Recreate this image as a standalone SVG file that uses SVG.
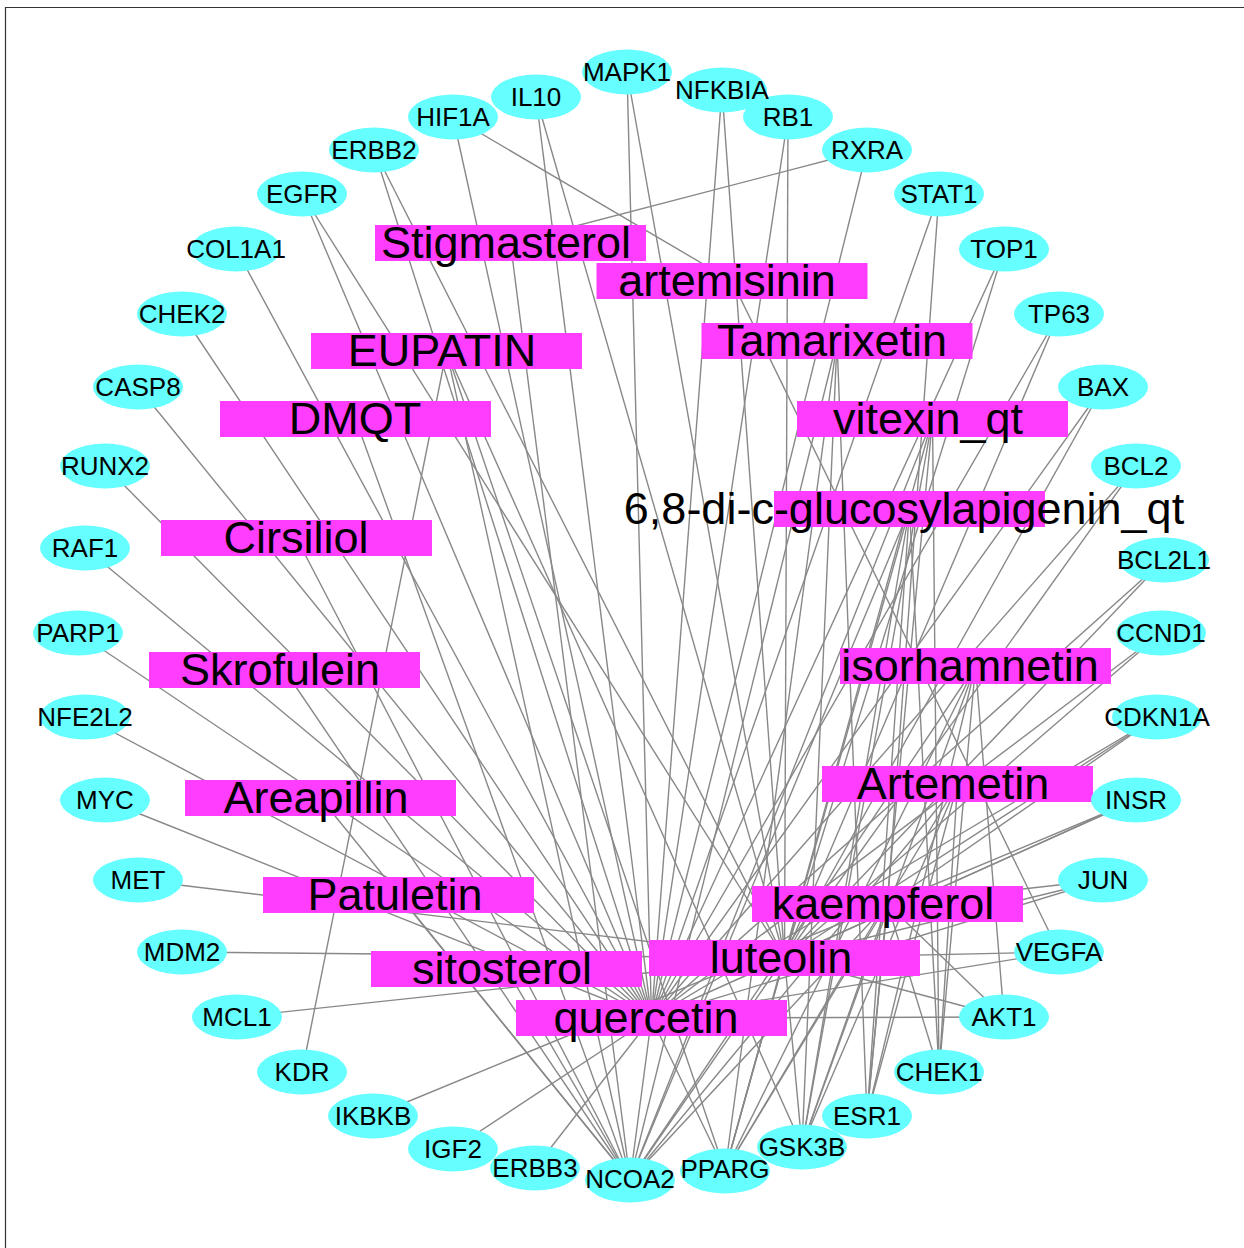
<svg xmlns="http://www.w3.org/2000/svg" width="1244" height="1248" viewBox="0 0 1244 1248">
<style>
.e{stroke:#888;stroke-width:1.4;fill:none}
.g ellipse{fill:#66FFFF}
.g text{font-family:"Liberation Sans",Arial,sans-serif;font-size:26px;fill:#000;text-anchor:middle}
.c rect{fill:#FF3DFF}
.c text{font-family:"Liberation Sans",Arial,sans-serif;font-size:45px;fill:#000;text-anchor:middle}
</style>
<rect x="0" y="0" width="1244" height="1248" fill="#fff"/>
<path d="M5.5,1248 V7.5 H1244" fill="none" stroke="#333" stroke-width="1.2"/>
<g id="edges" class="e">
<!-- quercetin -->
<line x1="651.5" y1="1018" x2="453" y2="117"/>
<line x1="651.5" y1="1018" x2="536" y2="97"/>
<line x1="651.5" y1="1018" x2="627" y2="72"/>
<line x1="651.5" y1="1018" x2="722" y2="90"/>
<line x1="651.5" y1="1018" x2="788" y2="117"/>
<line x1="651.5" y1="1018" x2="867" y2="150"/>
<line x1="651.5" y1="1018" x2="939" y2="194"/>
<line x1="651.5" y1="1018" x2="1004" y2="249"/>
<line x1="651.5" y1="1018" x2="1059" y2="314"/>
<line x1="651.5" y1="1018" x2="1103" y2="387"/>
<line x1="651.5" y1="1018" x2="1136" y2="466"/>
<line x1="651.5" y1="1018" x2="1164" y2="560"/>
<line x1="651.5" y1="1018" x2="1161" y2="633"/>
<line x1="651.5" y1="1018" x2="1157" y2="717"/>
<line x1="651.5" y1="1018" x2="1136" y2="800"/>
<line x1="651.5" y1="1018" x2="1103" y2="880"/>
<line x1="651.5" y1="1018" x2="1059" y2="952"/>
<line x1="651.5" y1="1018" x2="1004" y2="1017"/>
<line x1="651.5" y1="1018" x2="374" y2="150"/>
<line x1="651.5" y1="1018" x2="302" y2="194"/>
<line x1="651.5" y1="1018" x2="236" y2="249"/>
<line x1="651.5" y1="1018" x2="182" y2="314"/>
<line x1="651.5" y1="1018" x2="138" y2="387"/>
<line x1="651.5" y1="1018" x2="105" y2="466"/>
<line x1="651.5" y1="1018" x2="85" y2="548"/>
<line x1="651.5" y1="1018" x2="78" y2="633"/>
<line x1="651.5" y1="1018" x2="85" y2="717"/>
<line x1="651.5" y1="1018" x2="105" y2="800"/>
<line x1="651.5" y1="1018" x2="453" y2="1149"/>
<line x1="651.5" y1="1018" x2="535" y2="1168"/>
<line x1="651.5" y1="1018" x2="630" y2="1180"/>
<line x1="651.5" y1="1018" x2="725" y2="1171"/>
<!-- luteolin -->
<line x1="784.5" y1="958" x2="374" y2="150"/>
<line x1="784.5" y1="958" x2="302" y2="194"/>
<line x1="784.5" y1="958" x2="536" y2="97"/>
<line x1="784.5" y1="958" x2="627" y2="72"/>
<line x1="784.5" y1="958" x2="722" y2="90"/>
<line x1="784.5" y1="958" x2="788" y2="117"/>
<line x1="784.5" y1="958" x2="1004" y2="249"/>
<line x1="784.5" y1="958" x2="1059" y2="314"/>
<line x1="784.5" y1="958" x2="1103" y2="387"/>
<line x1="784.5" y1="958" x2="1136" y2="466"/>
<line x1="784.5" y1="958" x2="1164" y2="560"/>
<line x1="784.5" y1="958" x2="1161" y2="633"/>
<line x1="784.5" y1="958" x2="1157" y2="717"/>
<line x1="784.5" y1="958" x2="1136" y2="800"/>
<line x1="784.5" y1="958" x2="1103" y2="880"/>
<line x1="784.5" y1="958" x2="1059" y2="952"/>
<line x1="784.5" y1="958" x2="1004" y2="1017"/>
<line x1="784.5" y1="958" x2="138" y2="880"/>
<line x1="784.5" y1="958" x2="182" y2="952"/>
<line x1="784.5" y1="958" x2="237" y2="1017"/>
<line x1="784.5" y1="958" x2="725" y2="1171"/>
<line x1="784.5" y1="958" x2="630" y2="1180"/>
<line x1="784.5" y1="958" x2="802" y2="1146"/>
<!-- kaempferol -->
<line x1="887.5" y1="904" x2="939" y2="194"/>
<line x1="887.5" y1="904" x2="1103" y2="880"/>
<line x1="887.5" y1="904" x2="1004" y2="1017"/>
<line x1="887.5" y1="904" x2="373" y2="1116"/>
<line x1="887.5" y1="904" x2="725" y2="1171"/>
<line x1="887.5" y1="904" x2="630" y2="1180"/>
<line x1="887.5" y1="904" x2="802" y2="1146"/>
<line x1="887.5" y1="904" x2="867" y2="1116"/>
<line x1="887.5" y1="904" x2="939" y2="1072"/>
<line x1="887.5" y1="904" x2="1136" y2="800"/>
<line x1="887.5" y1="904" x2="1157" y2="717"/>
<!-- minor compounds -->
<line x1="510.5" y1="243" x2="867" y2="150"/>
<line x1="510.5" y1="243" x2="630" y2="1180"/>
<line x1="732" y1="281" x2="453" y2="117"/>
<line x1="732" y1="281" x2="1059" y2="952"/>
<line x1="446.5" y1="351" x2="302" y2="1072"/>
<line x1="446.5" y1="351" x2="630" y2="1180"/>
<line x1="446.5" y1="351" x2="725" y2="1171"/>
<line x1="446.5" y1="351" x2="802" y2="1146"/>
<line x1="355.5" y1="419" x2="630" y2="1180"/>
<line x1="296.5" y1="538" x2="630" y2="1180"/>
<line x1="284.5" y1="670" x2="630" y2="1180"/>
<line x1="320.5" y1="798" x2="630" y2="1180"/>
<line x1="398.5" y1="895" x2="630" y2="1180"/>
<line x1="506.5" y1="969" x2="630" y2="1180"/>
<line x1="837" y1="341" x2="630" y2="1180"/>
<line x1="837" y1="341" x2="725" y2="1171"/>
<line x1="837" y1="341" x2="802" y2="1146"/>
<line x1="837" y1="341" x2="867" y2="1116"/>
<line x1="932.5" y1="419" x2="630" y2="1180"/>
<line x1="932.5" y1="419" x2="725" y2="1171"/>
<line x1="932.5" y1="419" x2="802" y2="1146"/>
<line x1="932.5" y1="419" x2="867" y2="1116"/>
<line x1="932.5" y1="419" x2="939" y2="1072"/>
<line x1="909.5" y1="509" x2="630" y2="1180"/>
<line x1="909.5" y1="509" x2="725" y2="1171"/>
<line x1="909.5" y1="509" x2="802" y2="1146"/>
<line x1="909.5" y1="509" x2="867" y2="1116"/>
<line x1="909.5" y1="509" x2="939" y2="1072"/>
<line x1="975.5" y1="666" x2="630" y2="1180"/>
<line x1="975.5" y1="666" x2="725" y2="1171"/>
<line x1="975.5" y1="666" x2="802" y2="1146"/>
<line x1="975.5" y1="666" x2="867" y2="1116"/>
<line x1="975.5" y1="666" x2="939" y2="1072"/>
<line x1="975.5" y1="666" x2="1004" y2="1017"/>
<line x1="957.5" y1="784" x2="630" y2="1180"/>
<line x1="957.5" y1="784" x2="725" y2="1171"/>
<line x1="957.5" y1="784" x2="802" y2="1146"/>
<line x1="957.5" y1="784" x2="867" y2="1116"/>
<line x1="957.5" y1="784" x2="939" y2="1072"/>
</g>
<g class="c">
<g id="Stigmasterol"><rect x="375" y="225" width="271" height="36"/><text x="506" y="258">Stigmasterol</text></g>
<g id="artemisinin"><rect x="596.5" y="263" width="271" height="36"/><text x="727" y="296">artemisinin</text></g>
<g id="EUPATIN"><rect x="311" y="333" width="271" height="36"/><text x="442" y="366">EUPATIN</text></g>
<g id="Tamarixetin"><rect x="701.5" y="323" width="271" height="36"/><text x="832" y="356">Tamarixetin</text></g>
<g id="DMQT"><rect x="220" y="401" width="271" height="36"/><text x="355" y="434">DMQT</text></g>
<g id="vitexin_qt"><rect x="797" y="401" width="271" height="36"/><text x="928" y="434">vitexin_qt</text></g>
<g id="glucosylapigenin"><rect x="774" y="491" width="271" height="36"/><text x="904" y="524">6,8-di-c-glucosylapigenin_qt</text></g>
<g id="Cirsiliol"><rect x="161" y="520" width="271" height="36"/><text x="296" y="553">Cirsiliol</text></g>
<g id="Skrofulein"><rect x="149" y="652" width="271" height="36"/><text x="280" y="685">Skrofulein</text></g>
<g id="Areapillin"><rect x="185" y="780" width="271" height="36"/><text x="316" y="813">Areapillin</text></g>
<g id="isorhamnetin"><rect x="840" y="648" width="271" height="36"/><text x="970" y="681">isorhamnetin</text></g>
<g id="Artemetin"><rect x="822" y="766" width="271" height="36"/><text x="953" y="799">Artemetin</text></g>
<g id="Patuletin"><rect x="263" y="877" width="271" height="36"/><text x="395" y="910">Patuletin</text></g>
<g id="sitosterol"><rect x="371" y="951" width="271" height="36"/><text x="502" y="984">sitosterol</text></g>
<g id="luteolin"><rect x="649" y="940" width="271" height="36"/><text x="781" y="973">luteolin</text></g>
<g id="kaempferol"><rect x="752" y="886" width="271" height="36"/><text x="883" y="919">kaempferol</text></g>
<g id="quercetin"><rect x="516" y="1000" width="271" height="36"/><text x="646" y="1033">quercetin</text></g>
</g>
<g class="g">
<g id="MAPK1"><ellipse cx="627" cy="72" rx="45" ry="22.5"/><text x="627" y="81">MAPK1</text></g>
<g id="NFKBIA"><ellipse cx="722" cy="90" rx="45" ry="22.5"/></g>
<g id="RB1"><ellipse cx="788" cy="117" rx="45" ry="22.5"/><text x="788" y="126">RB1</text></g>
<g id="NFKBIA-label"><text x="722" y="99">NFKBIA</text></g>
<g id="RXRA"><ellipse cx="867" cy="150" rx="45" ry="22.5"/><text x="867" y="159">RXRA</text></g>
<g id="STAT1"><ellipse cx="939" cy="194" rx="45" ry="22.5"/><text x="939" y="203">STAT1</text></g>
<g id="TOP1"><ellipse cx="1004" cy="249" rx="45" ry="22.5"/><text x="1004" y="258">TOP1</text></g>
<g id="TP63"><ellipse cx="1059" cy="314" rx="45" ry="22.5"/><text x="1059" y="323">TP63</text></g>
<g id="BAX"><ellipse cx="1103" cy="387" rx="45" ry="22.5"/><text x="1103" y="396">BAX</text></g>
<g id="BCL2"><ellipse cx="1136" cy="466" rx="45" ry="22.5"/><text x="1136" y="475">BCL2</text></g>
<g id="BCL2L1"><ellipse cx="1164" cy="560" rx="45" ry="22.5"/><text x="1164" y="569">BCL2L1</text></g>
<g id="CCND1"><ellipse cx="1161" cy="633" rx="45" ry="22.5"/><text x="1161" y="642">CCND1</text></g>
<g id="CDKN1A"><ellipse cx="1157" cy="717" rx="45" ry="22.5"/><text x="1157" y="726">CDKN1A</text></g>
<g id="INSR"><ellipse cx="1136" cy="800" rx="45" ry="22.5"/><text x="1136" y="809">INSR</text></g>
<g id="JUN"><ellipse cx="1103" cy="880" rx="45" ry="22.5"/><text x="1103" y="889">JUN</text></g>
<g id="VEGFA"><ellipse cx="1059" cy="952" rx="45" ry="22.5"/><text x="1059" y="961">VEGFA</text></g>
<g id="AKT1"><ellipse cx="1004" cy="1017" rx="45" ry="22.5"/><text x="1004" y="1026">AKT1</text></g>
<g id="CHEK1"><ellipse cx="939" cy="1072" rx="45" ry="22.5"/><text x="939" y="1081">CHEK1</text></g>
<g id="ESR1"><ellipse cx="867" cy="1116" rx="45" ry="22.5"/><text x="867" y="1125">ESR1</text></g>
<g id="GSK3B"><ellipse cx="802" cy="1147" rx="45" ry="22.5"/><text x="802" y="1156">GSK3B</text></g>
<g id="PPARG"><ellipse cx="725" cy="1171" rx="45" ry="22.5"/></g>
<g id="NCOA2"><ellipse cx="630" cy="1180" rx="45" ry="22.5"/></g>
<g id="ERBB3"><ellipse cx="535" cy="1168" rx="45" ry="22.5"/></g>
<g id="IGF2"><ellipse cx="453" cy="1149" rx="45" ry="22.5"/><text x="453" y="1158">IGF2</text></g>
<g id="ERBB3-label"><text x="535" y="1177">ERBB3</text></g>
<g id="NCOA2-label"><text x="630" y="1188">NCOA2</text></g>
<g id="PPARG-label"><text x="725" y="1178">PPARG</text></g>
<g id="IKBKB"><ellipse cx="373" cy="1116" rx="45" ry="22.5"/><text x="373" y="1125">IKBKB</text></g>
<g id="KDR"><ellipse cx="302" cy="1072" rx="45" ry="22.5"/><text x="302" y="1081">KDR</text></g>
<g id="MCL1"><ellipse cx="237" cy="1017" rx="45" ry="22.5"/><text x="237" y="1026">MCL1</text></g>
<g id="MDM2"><ellipse cx="182" cy="952" rx="45" ry="22.5"/><text x="182" y="961">MDM2</text></g>
<g id="MET"><ellipse cx="138" cy="880" rx="45" ry="22.5"/><text x="138" y="889">MET</text></g>
<g id="MYC"><ellipse cx="105" cy="800" rx="45" ry="22.5"/><text x="105" y="809">MYC</text></g>
<g id="NFE2L2"><ellipse cx="85" cy="717" rx="45" ry="22.5"/><text x="85" y="726">NFE2L2</text></g>
<g id="PARP1"><ellipse cx="78" cy="633" rx="45" ry="22.5"/><text x="78" y="642">PARP1</text></g>
<g id="RAF1"><ellipse cx="85" cy="548" rx="45" ry="22.5"/><text x="85" y="557">RAF1</text></g>
<g id="RUNX2"><ellipse cx="105" cy="466" rx="45" ry="22.5"/><text x="105" y="475">RUNX2</text></g>
<g id="CASP8"><ellipse cx="138" cy="387" rx="45" ry="22.5"/><text x="138" y="396">CASP8</text></g>
<g id="CHEK2"><ellipse cx="182" cy="314" rx="45" ry="22.5"/><text x="182" y="323">CHEK2</text></g>
<g id="COL1A1"><ellipse cx="236" cy="249" rx="45" ry="22.5"/><text x="236" y="258">COL1A1</text></g>
<g id="EGFR"><ellipse cx="302" cy="194" rx="45" ry="22.5"/><text x="302" y="203">EGFR</text></g>
<g id="ERBB2"><ellipse cx="374" cy="150" rx="45" ry="22.5"/><text x="374" y="159">ERBB2</text></g>
<g id="HIF1A"><ellipse cx="453" cy="117" rx="45" ry="22.5"/><text x="453" y="126">HIF1A</text></g>
<g id="IL10"><ellipse cx="536" cy="97" rx="45" ry="22.5"/><text x="536" y="106">IL10</text></g>
</g>
</svg>
